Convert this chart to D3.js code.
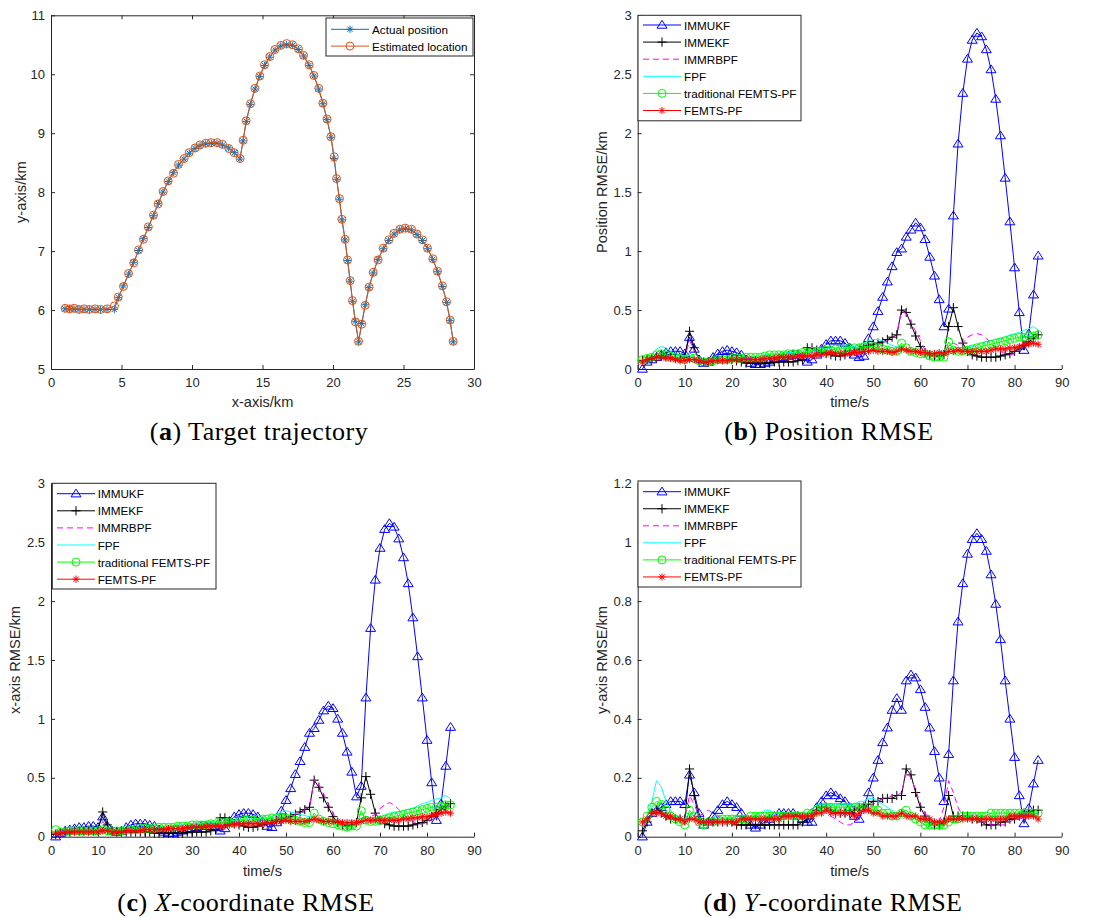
<!DOCTYPE html>
<html><head><meta charset="utf-8">
<script src="https://cdn.jsdelivr.net/npm/d3@7"></script>
<style>body{margin:0;background:#fff}svg{display:block}</style>
</head><body>
<svg id="chart" width="1101" height="918"></svg>
<script>
// ---------------- DATA ----------------
const trajActualX = [0.99,1.32,1.63,1.99,2.34,2.72,3.12,3.52,3.97,4.49,
4.78,5.13,5.51,5.86,6.22,6.55,6.90,7.26,7.61,7.94,8.32,8.68,9.05,9.43,9.81,10.21,10.57,10.97,11.37,11.77,12.17,12.60,13.00,13.40,
13.62,13.85,14.14,14.47,14.80,15.15,15.51,15.89,16.29,16.71,17.14,17.54,17.92,18.30,18.65,18.98,19.29,19.57,19.86,20.07,20.26,20.45,20.64,20.85,21.04,21.21,21.39,21.58,21.82,
22.03,22.29,22.55,22.86,23.19,23.57,23.95,24.33,24.73,25.13,25.56,25.96,26.34,26.71,27.07,27.42,27.75,28.06,28.30,28.53];
const trajActualY = [6.02,6.02,6.02,6.01,6.01,6.01,6.01,6.01,6.01,6.01,
6.21,6.41,6.61,6.81,7.01,7.21,7.40,7.60,7.81,8.00,8.18,8.33,8.46,8.56,8.66,8.74,8.79,8.82,8.83,8.83,8.80,8.75,8.67,8.56,
8.87,9.20,9.49,9.75,9.96,10.15,10.29,10.41,10.48,10.50,10.49,10.42,10.31,10.15,9.97,9.75,9.50,9.23,8.93,8.57,8.22,7.88,7.53,7.19,6.84,6.49,6.15,5.81,5.46,
5.77,6.09,6.38,6.63,6.86,7.04,7.18,7.29,7.36,7.38,7.36,7.28,7.18,7.04,6.86,6.65,6.40,6.13,5.82,5.46];
const trajEstX = [1.00,1.32,1.64,1.98,2.35,2.72,3.13,3.52,3.98,4.50,
4.77,5.14,5.50,5.87,6.21,6.56,6.90,7.27,7.60,7.95,8.31,8.69,9.04,9.44,9.80,10.22,10.56,10.98,11.36,11.78,12.16,12.61,12.99,13.41,
13.63,13.84,14.15,14.46,14.81,15.14,15.52,15.88,16.30,16.72,17.13,17.55,17.91,18.31,18.64,18.99,19.28,19.58,19.85,20.09,20.25,20.46,20.63,20.86,21.03,21.22,21.38,21.59,21.81,
22.04,22.28,22.56,22.85,23.20,23.56,23.96,24.32,24.74,25.12,25.57,25.95,26.35,26.70,27.08,27.41,27.76,28.05,28.31,28.52];
const trajEstY = [6.03,6.02,6.03,6.01,6.02,6.01,6.02,6.01,6.02,6.07,
6.22,6.40,6.62,6.80,7.02,7.20,7.41,7.61,7.80,8.01,8.19,8.32,8.47,8.57,8.67,8.75,8.80,8.83,8.84,8.84,8.81,8.74,8.67,8.57,
8.88,9.21,9.50,9.76,9.97,10.16,10.30,10.42,10.49,10.52,10.50,10.43,10.32,10.16,9.98,9.76,9.51,9.24,8.94,8.60,8.23,7.89,7.54,7.20,6.85,6.50,6.16,5.80,5.47,
5.76,6.08,6.39,6.64,6.85,7.05,7.19,7.30,7.37,7.39,7.37,7.29,7.19,7.05,6.87,6.66,6.41,6.14,5.83,5.47];

const timeSteps = [1,2,3,4,5,6,7,8,9,10,11,12,13,14,15,16,17,18,19,20,21,22,23,24,25,26,27,28,29,30,
31,32,33,34,35,36,37,38,39,40,41,42,43,44,45,46,47,48,49,50,51,52,53,54,55,56,57,58,59,60,
61,62,63,64,65,66,67,68,69,70,71,72,73,74,75,76,77,78,79,80,81,82,83,84,85];

const seriesNames = ["IMMUKF","IMMEKF","IMMRBPF","FPF","traditional FEMTS-PF","FEMTS-PF"];

// Position RMSE (b)
const posIMMUKF = [0.00,0.06,0.08,0.10,0.12,0.14,0.15,0.15,0.15,0.13,
0.27,0.17,0.08,0.05,0.06,0.10,0.13,0.15,0.16,0.15,
0.14,0.12,0.08,0.05,0.04,0.04,0.05,0.06,0.08,0.09,
0.10,0.11,0.12,0.12,0.10,0.06,0.08,0.12,0.17,0.21,
0.24,0.24,0.24,0.22,0.18,0.12,0.10,0.11,0.26,0.36,
0.49,0.61,0.74,0.87,0.99,1.02,1.12,1.18,1.24,1.20,
1.10,0.95,0.79,0.59,0.36,0.51,1.30,1.91,2.34,2.63,
2.79,2.85,2.82,2.71,2.54,2.29,1.98,1.62,1.25,0.86,
0.48,0.16,0.30,0.63,0.96];
const posIMMEKF = [0.07,0.08,0.09,0.10,0.11,0.11,0.10,0.09,0.09,0.10,
0.32,0.18,0.08,0.06,0.06,0.07,0.08,0.08,0.08,0.08,
0.07,0.06,0.05,0.05,0.05,0.05,0.05,0.05,0.06,0.06,
0.06,0.06,0.06,0.07,0.08,0.18,0.18,0.16,0.14,0.13,
0.12,0.11,0.11,0.12,0.13,0.15,0.17,0.19,0.20,0.21,
0.22,0.23,0.25,0.27,0.29,0.50,0.48,0.38,0.28,0.19,
0.14,0.12,0.11,0.11,0.12,0.36,0.52,0.36,0.22,0.15,
0.12,0.11,0.10,0.10,0.10,0.10,0.11,0.12,0.13,0.15,
0.17,0.20,0.23,0.26,0.29];
const posIMMRBPF = [0.06,0.07,0.08,0.09,0.10,0.10,0.10,0.09,0.09,0.10,
0.24,0.16,0.09,0.07,0.07,0.08,0.09,0.09,0.09,0.09,
0.09,0.09,0.09,0.09,0.09,0.09,0.10,0.10,0.10,0.11,
0.11,0.11,0.12,0.12,0.12,0.13,0.14,0.14,0.15,0.15,
0.15,0.14,0.14,0.13,0.12,0.12,0.13,0.15,0.18,0.20,
0.21,0.22,0.24,0.26,0.30,0.49,0.47,0.40,0.32,0.24,
0.16,0.12,0.11,0.11,0.13,0.20,0.22,0.20,0.22,0.27,
0.29,0.30,0.29,0.26,0.22,0.18,0.15,0.13,0.12,0.13,
0.16,0.19,0.22,0.25,0.27];
const posFPF = [0.07,0.09,0.12,0.17,0.19,0.18,0.15,0.13,0.12,0.11,
0.12,0.10,0.08,0.07,0.07,0.08,0.08,0.09,0.09,0.09,
0.09,0.10,0.10,0.10,0.11,0.11,0.12,0.13,0.13,0.13,
0.13,0.14,0.14,0.14,0.15,0.15,0.16,0.16,0.17,0.17,
0.18,0.18,0.18,0.18,0.19,0.19,0.20,0.22,0.24,0.25,
0.25,0.24,0.22,0.20,0.19,0.18,0.17,0.16,0.15,0.15,
0.14,0.13,0.13,0.14,0.16,0.18,0.17,0.16,0.17,0.18,
0.19,0.20,0.22,0.23,0.24,0.25,0.26,0.27,0.29,0.30,
0.31,0.33,0.34,0.36,0.33];
const posTradFEMTS = [0.08,0.09,0.10,0.12,0.13,0.12,0.11,0.10,0.09,0.08,
0.10,0.09,0.07,0.06,0.06,0.07,0.08,0.08,0.08,0.09,
0.09,0.09,0.10,0.10,0.10,0.10,0.11,0.12,0.12,0.12,
0.12,0.13,0.13,0.13,0.14,0.14,0.15,0.15,0.15,0.16,
0.16,0.17,0.17,0.17,0.18,0.18,0.18,0.19,0.19,0.19,
0.18,0.17,0.16,0.15,0.15,0.22,0.18,0.15,0.14,0.13,
0.13,0.11,0.10,0.10,0.10,0.23,0.16,0.15,0.15,0.16,
0.17,0.18,0.19,0.20,0.21,0.22,0.23,0.24,0.25,0.26,
0.27,0.27,0.28,0.28,0.29];
const posFEMTS = [0.06,0.08,0.09,0.10,0.10,0.09,0.09,0.08,0.07,0.07,
0.08,0.08,0.07,0.06,0.06,0.07,0.07,0.07,0.07,0.08,
0.08,0.08,0.08,0.08,0.08,0.08,0.09,0.09,0.09,0.10,
0.10,0.10,0.10,0.11,0.11,0.11,0.11,0.12,0.12,0.13,
0.14,0.13,0.13,0.13,0.13,0.14,0.14,0.15,0.15,0.16,
0.15,0.15,0.15,0.14,0.15,0.17,0.16,0.15,0.15,0.14,
0.14,0.13,0.13,0.14,0.13,0.15,0.15,0.16,0.15,0.15,
0.15,0.15,0.15,0.15,0.16,0.17,0.17,0.17,0.18,0.18,
0.19,0.21,0.21,0.22,0.21];

// X-coordinate RMSE (c)
const xIMMUKF = [0.00,0.03,0.05,0.06,0.07,0.08,0.08,0.09,0.09,0.08,
0.17,0.09,0.05,0.04,0.05,0.08,0.10,0.11,0.11,0.11,
0.10,0.09,0.06,0.04,0.03,0.03,0.04,0.05,0.06,0.07,
0.08,0.09,0.09,0.09,0.08,0.05,0.07,0.13,0.17,0.19,
0.20,0.20,0.19,0.17,0.13,0.09,0.08,0.12,0.22,0.31,
0.41,0.53,0.64,0.76,0.88,0.92,0.99,1.07,1.11,1.09,
1.00,0.88,0.72,0.55,0.34,0.43,1.18,1.77,2.18,2.45,
2.61,2.66,2.63,2.53,2.37,2.15,1.86,1.53,1.18,0.82,
0.46,0.14,0.28,0.60,0.93];
const xIMMEKF = [0.02,0.03,0.04,0.04,0.05,0.05,0.05,0.05,0.05,0.06,
0.21,0.10,0.05,0.04,0.04,0.04,0.04,0.04,0.04,0.04,
0.04,0.03,0.03,0.03,0.03,0.03,0.03,0.03,0.04,0.04,
0.04,0.04,0.04,0.05,0.06,0.16,0.16,0.13,0.11,0.10,
0.09,0.08,0.08,0.09,0.10,0.11,0.12,0.14,0.15,0.16,
0.17,0.19,0.21,0.23,0.25,0.48,0.42,0.33,0.25,0.17,
0.12,0.10,0.09,0.10,0.12,0.33,0.51,0.36,0.20,0.14,
0.11,0.10,0.09,0.09,0.09,0.09,0.10,0.11,0.12,0.14,
0.17,0.20,0.23,0.26,0.28];
const xIMMRBPF = [0.02,0.03,0.04,0.04,0.05,0.05,0.05,0.05,0.05,0.06,
0.13,0.08,0.05,0.05,0.05,0.05,0.05,0.06,0.06,0.06,
0.06,0.06,0.06,0.06,0.07,0.07,0.07,0.07,0.08,0.08,
0.08,0.08,0.09,0.09,0.09,0.10,0.11,0.11,0.12,0.12,
0.12,0.12,0.12,0.12,0.11,0.11,0.12,0.13,0.15,0.16,
0.17,0.19,0.21,0.23,0.26,0.48,0.44,0.36,0.28,0.20,
0.14,0.11,0.10,0.10,0.12,0.16,0.17,0.17,0.19,0.24,
0.27,0.29,0.27,0.23,0.19,0.15,0.13,0.11,0.11,0.12,
0.14,0.17,0.20,0.24,0.26];
const xFPF = [0.03,0.04,0.05,0.06,0.06,0.06,0.06,0.06,0.06,0.06,
0.07,0.06,0.06,0.06,0.06,0.06,0.07,0.07,0.07,0.07,
0.08,0.08,0.08,0.09,0.09,0.09,0.10,0.10,0.11,0.11,
0.11,0.11,0.12,0.12,0.12,0.13,0.13,0.13,0.14,0.14,
0.15,0.15,0.15,0.15,0.16,0.16,0.17,0.19,0.21,0.22,
0.21,0.20,0.19,0.18,0.17,0.16,0.15,0.14,0.14,0.14,
0.13,0.12,0.11,0.12,0.14,0.16,0.15,0.14,0.15,0.16,
0.18,0.20,0.21,0.21,0.22,0.23,0.24,0.26,0.28,0.29,
0.31,0.32,0.33,0.35,0.32];
const xTradFEMTS = [0.06,0.04,0.04,0.05,0.05,0.05,0.05,0.05,0.05,0.05,
0.06,0.05,0.05,0.05,0.05,0.06,0.06,0.06,0.07,0.07,
0.07,0.07,0.08,0.08,0.08,0.08,0.09,0.09,0.09,0.10,
0.10,0.10,0.10,0.11,0.11,0.12,0.12,0.12,0.13,0.13,
0.14,0.14,0.14,0.15,0.15,0.15,0.16,0.16,0.16,0.16,
0.15,0.14,0.13,0.12,0.12,0.20,0.15,0.13,0.12,0.11,
0.10,0.09,0.08,0.09,0.09,0.22,0.14,0.13,0.13,0.14,
0.15,0.16,0.17,0.18,0.19,0.20,0.21,0.22,0.23,0.24,
0.25,0.25,0.26,0.27,0.27];
const xFEMTS = [0.03,0.03,0.04,0.04,0.04,0.04,0.04,0.04,0.04,0.04,
0.05,0.05,0.04,0.04,0.04,0.05,0.05,0.05,0.05,0.06,
0.06,0.06,0.06,0.06,0.07,0.07,0.07,0.07,0.08,0.08,
0.08,0.08,0.09,0.09,0.09,0.09,0.09,0.10,0.10,0.11,
0.11,0.11,0.11,0.11,0.11,0.12,0.12,0.13,0.13,0.14,
0.13,0.13,0.13,0.13,0.14,0.15,0.14,0.13,0.13,0.13,
0.13,0.12,0.12,0.12,0.12,0.13,0.14,0.14,0.14,0.14,
0.14,0.14,0.14,0.14,0.15,0.15,0.16,0.16,0.17,0.17,
0.18,0.19,0.20,0.21,0.20];

// Y-coordinate RMSE (d)
const yIMMUKF = [0.00,0.05,0.08,0.09,0.10,0.11,0.12,0.12,0.12,0.11,
0.21,0.15,0.08,0.04,0.05,0.07,0.09,0.11,0.12,0.11,
0.10,0.08,0.05,0.04,0.03,0.04,0.05,0.06,0.07,0.08,
0.08,0.08,0.08,0.07,0.06,0.05,0.05,0.10,0.12,0.14,
0.15,0.14,0.13,0.12,0.10,0.07,0.06,0.10,0.15,0.20,
0.26,0.32,0.37,0.43,0.47,0.43,0.53,0.55,0.54,0.50,
0.44,0.37,0.29,0.20,0.12,0.28,0.53,0.73,0.86,0.96,
1.01,1.03,1.01,0.97,0.89,0.79,0.67,0.53,0.40,0.27,
0.14,0.045,0.096,0.18,0.26];
const yIMMEKF = [0.02,0.05,0.08,0.09,0.08,0.07,0.06,0.06,0.06,0.06,
0.23,0.14,0.06,0.05,0.05,0.05,0.05,0.05,0.05,0.05,
0.04,0.04,0.04,0.04,0.04,0.04,0.04,0.04,0.04,0.04,
0.04,0.04,0.04,0.04,0.05,0.06,0.08,0.09,0.10,0.10,
0.09,0.08,0.08,0.08,0.08,0.09,0.10,0.10,0.11,0.12,
0.12,0.13,0.13,0.13,0.14,0.14,0.23,0.21,0.15,0.10,
0.07,0.05,0.04,0.04,0.05,0.14,0.07,0.07,0.07,0.07,
0.06,0.06,0.05,0.04,0.04,0.04,0.05,0.05,0.06,0.06,
0.07,0.08,0.08,0.09,0.09];
const yIMMRBPF = [0.03,0.06,0.08,0.09,0.08,0.07,0.07,0.06,0.06,0.06,
0.14,0.11,0.07,0.08,0.09,0.08,0.07,0.06,0.06,0.06,
0.06,0.06,0.06,0.06,0.06,0.06,0.06,0.06,0.06,0.06,
0.06,0.07,0.07,0.07,0.07,0.07,0.08,0.09,0.09,0.08,
0.07,0.06,0.05,0.04,0.04,0.05,0.06,0.08,0.10,0.11,
0.12,0.13,0.13,0.14,0.14,0.15,0.22,0.20,0.16,0.11,
0.08,0.06,0.05,0.05,0.10,0.19,0.15,0.10,0.07,0.07,
0.06,0.06,0.05,0.05,0.04,0.04,0.04,0.04,0.05,0.06,
0.06,0.07,0.07,0.07,0.07];
const yFPF = [0.04,0.07,0.12,0.19,0.17,0.12,0.09,0.07,0.06,0.06,
0.08,0.07,0.06,0.05,0.05,0.05,0.06,0.06,0.06,0.06,
0.07,0.07,0.07,0.07,0.07,0.08,0.09,0.09,0.08,0.08,
0.08,0.08,0.08,0.08,0.08,0.08,0.09,0.11,0.11,0.11,
0.11,0.11,0.11,0.11,0.11,0.11,0.12,0.12,0.13,0.13,
0.12,0.11,0.10,0.09,0.08,0.08,0.08,0.07,0.07,0.06,
0.06,0.05,0.05,0.05,0.05,0.06,0.06,0.06,0.07,0.07,
0.07,0.07,0.07,0.07,0.07,0.07,0.07,0.07,0.07,0.07,
0.08,0.08,0.08,0.08,0.08];
const yTradFEMTS = [0.05,0.07,0.10,0.12,0.11,0.09,0.07,0.06,0.05,0.04,
0.09,0.07,0.05,0.04,0.05,0.05,0.06,0.06,0.06,0.06,
0.06,0.06,0.06,0.07,0.07,0.07,0.07,0.07,0.07,0.07,
0.07,0.07,0.07,0.07,0.07,0.08,0.08,0.09,0.10,0.10,
0.10,0.10,0.10,0.10,0.10,0.10,0.10,0.10,0.10,0.09,
0.09,0.08,0.08,0.07,0.07,0.08,0.09,0.07,0.06,0.05,
0.04,0.04,0.04,0.04,0.04,0.05,0.06,0.06,0.07,0.07,
0.07,0.07,0.07,0.07,0.08,0.08,0.08,0.08,0.08,0.08,
0.08,0.08,0.08,0.08,0.08];
const yFEMTS = [0.05,0.06,0.08,0.08,0.08,0.07,0.07,0.06,0.06,0.05,
0.06,0.06,0.05,0.05,0.05,0.05,0.05,0.05,0.05,0.05,
0.05,0.06,0.06,0.06,0.06,0.06,0.06,0.06,0.06,0.06,
0.07,0.07,0.07,0.07,0.07,0.07,0.07,0.08,0.08,0.09,
0.08,0.08,0.08,0.08,0.08,0.07,0.08,0.09,0.09,0.08,
0.08,0.07,0.07,0.07,0.07,0.08,0.07,0.07,0.07,0.06,
0.06,0.06,0.05,0.05,0.05,0.06,0.06,0.06,0.06,0.06,
0.06,0.06,0.06,0.06,0.06,0.06,0.06,0.06,0.07,0.07,
0.07,0.07,0.07,0.07,0.06];

const trajXTicks = [0,5,10,15,20,25,30];
const trajYTicks = [5,6,7,8,9,10,11];
const timeTicks = [0,10,20,30,40,50,60,70,80,90];
const rmseTicks3 = [0,0.5,1,1.5,2,2.5,3];
const rmseTicks12 = [0,0.2,0.4,0.6,0.8,1,1.2];

// ---------------- DRAWING ----------------
const svg = d3.select("#chart");
const AXC = "#262626";
const SANS = "'Liberation Sans', Arial, Helvetica, sans-serif";
const SERIF = "'Liberation Serif', 'Times New Roman', serif";

function markerPath(type) {
  if (type === "star") { const r = 3.6, q = r * 0.72;
    return `M${-r},0L${r},0M0,${-r}L0,${r}M${-q},${-q}L${q},${q}M${-q},${q}L${q},${-q}`; }
  if (type === "plus") { const r = 4.6; return `M${-r},0L${r},0M0,${-r}L0,${r}`; }
  if (type === "tri") return "M0,-4.6L5,3.2L-5,3.2Z";
  return null;
}
function drawMarkers(g, pts, type, color) {
  if (!type) return;
  if (type === "circle") {
    g.selectAll(null).data(pts).enter().append("circle")
      .attr("cx", d => d[0]).attr("cy", d => d[1]).attr("r", 4)
      .attr("fill", "none").attr("stroke", color).attr("stroke-width", 1);
  } else {
    const p = markerPath(type);
    g.selectAll(null).data(pts).enter().append("path")
      .attr("d", p).attr("transform", d => `translate(${d[0]},${d[1]})`)
      .attr("fill", "none").attr("stroke", color).attr("stroke-width", 1);
  }
}

function setupAxes(box, xDom, yDom, xTicks, yTicks, opts) {
  const x = d3.scaleLinear().domain(xDom).range([box.left, box.right]);
  const y = d3.scaleLinear().domain(yDom).range([box.bottom, box.top]);
  const g = svg.append("g");
  const fmt = d => String(d);
  g.append("g").attr("transform", `translate(0,${box.bottom})`)
    .call(d3.axisBottom(x).tickValues(xTicks).tickSize(-4).tickSizeOuter(0).tickPadding(9).tickFormat(fmt));
  g.append("g").attr("transform", `translate(${box.left},0)`)
    .call(d3.axisLeft(y).tickValues(yTicks).tickSize(-4).tickSizeOuter(0).tickPadding(6).tickFormat(fmt));
  if (opts.box) {
    g.append("g").attr("transform", `translate(0,${box.top})`)
      .call(d3.axisTop(x).tickValues(xTicks).tickSize(-4).tickSizeOuter(0).tickFormat(""));
    g.append("g").attr("transform", `translate(${box.right},0)`)
      .call(d3.axisRight(y).tickValues(yTicks).tickSize(-4).tickSizeOuter(0).tickFormat(""));
  }
  g.selectAll(".domain").attr("stroke", AXC).attr("stroke-width", 1);
  g.selectAll(".tick line").attr("stroke", AXC).attr("stroke-width", 1);
  g.selectAll(".tick text").attr("fill", AXC).style("font-family", SANS).style("font-size", "13px");
  g.append("text").attr("x", (box.left + box.right) / 2).attr("y", opts.xLabelY)
    .attr("text-anchor", "middle").attr("dominant-baseline", "central")
    .style("font-family", SANS).style("font-size", "14.6px").attr("fill", AXC).text(opts.xLabel);
  g.append("text").attr("transform", `translate(${opts.yLabelX},${(box.top + box.bottom) / 2}) rotate(-90)`)
    .attr("text-anchor", "middle").attr("dominant-baseline", "central")
    .style("font-family", SANS).style("font-size", "14.6px").attr("fill", AXC).text(opts.yLabel);
  return { x, y };
}

function drawLegend(lg, entries) {
  const g = svg.append("g");
  g.append("rect").attr("x", lg.x).attr("y", lg.y).attr("width", lg.w).attr("height", lg.h)
    .attr("fill", "#fff").attr("stroke", AXC).attr("stroke-width", 1);
  entries.forEach((e, i) => {
    const yy = lg.y0 + i * lg.dy;
    g.append("line").attr("x1", lg.lx1).attr("x2", lg.lx2).attr("y1", yy).attr("y2", yy)
      .attr("stroke", e.color).attr("stroke-width", 1).attr("stroke-dasharray", e.dash || null);
    drawMarkers(g, [[(lg.lx1 + lg.lx2) / 2, yy]], e.marker, e.color);
    g.append("text").attr("x", lg.tx).attr("y", yy).attr("dominant-baseline", "central")
      .style("font-family", SANS).style("font-size", "11.7px").attr("fill", "#000").text(e.name);
  });
}

function caption(cx, by, letter, parts) {
  const t = svg.append("text").attr("x", cx).attr("y", by).attr("text-anchor", "middle")
    .style("font-family", SERIF).style("font-size", "26px").style("letter-spacing", "0.5px").attr("fill", "#000");
  t.append("tspan").text("(");
  t.append("tspan").attr("font-weight", "bold").text(letter);
  t.append("tspan").text(") ");
  parts.forEach(p => t.append("tspan").attr("font-style", p.italic ? "italic" : "normal").text(p.text));
}

// ---- Panel (a) trajectory ----
{
  const box = { left: 51, right: 474, top: 15.3, bottom: 369 };
  const { x, y } = setupAxes(box, [0, 30], [5, 11], trajXTicks, trajYTicks,
    { box: true, xLabel: "x-axis/km", yLabel: "y-axis/km", xLabelY: 402, yLabelX: 21 });
  const line = d3.line().x(d => x(d[0])).y(d => y(d[1]));
  const act = trajActualX.map((v, i) => [v, trajActualY[i]]);
  const est = trajEstX.map((v, i) => [v, trajEstY[i]]);
  const g = svg.append("g");
  g.append("path").attr("d", line(act)).attr("fill", "none").attr("stroke", "#0072BD").attr("stroke-width", 1);
  drawMarkers(g, act.map(d => [x(d[0]), y(d[1])]), "star", "#0072BD");
  g.append("path").attr("d", line(est)).attr("fill", "none").attr("stroke", "#D95319").attr("stroke-width", 1);
  drawMarkers(g, est.map(d => [x(d[0]), y(d[1])]), "circle", "#D95319");
  drawLegend({ x: 326, y: 18, w: 147, h: 38, y0: 29.3, dy: 16.8, lx1: 331, lx2: 369, tx: 372 }, [
    { name: "Actual position", color: "#0072BD", marker: "star" },
    { name: "Estimated location", color: "#D95319", marker: "circle" }]);
  caption(259, 440, "a", [{ text: "Target trajectory" }]);
}

// ---- RMSE panels ----
const seriesStyles = [
  { color: "#0000FF", marker: "tri" },
  { color: "#000000", marker: "plus" },
  { color: "#FF00FF", marker: null, dash: "6,4" },
  { color: "#00FFFF", marker: null },
  { color: "#00FF00", marker: "circle" },
  { color: "#FF0000", marker: "star" }];

function rmsePanel(box, yDom, yTicks, series, yLabel, yLabelX, xLabelY, lg) {
  const { x, y } = setupAxes(box, [0, 90], yDom, timeTicks, yTicks,
    { box: false, xLabel: "time/s", yLabel, xLabelY, yLabelX });
  const line = d3.line().x(d => x(d[0])).y(d => y(d[1]));
  const g = svg.append("g");
  series.forEach((vals, si) => {
    const st = seriesStyles[si];
    const pts = timeSteps.map((t, i) => [t, vals[i]]);
    g.append("path").attr("d", line(pts)).attr("fill", "none").attr("stroke", st.color)
      .attr("stroke-width", 1).attr("stroke-dasharray", st.dash || null);
    drawMarkers(g, pts.map(d => [x(d[0]), y(d[1])]), st.marker, st.color);
  });
  drawLegend(lg, seriesNames.map((n, i) => Object.assign({ name: n }, seriesStyles[i])));
}

rmsePanel({ left: 637.7, right: 1061.7, top: 15.3, bottom: 369 }, [0, 3], rmseTicks3,
  [posIMMUKF, posIMMEKF, posIMMRBPF, posFPF, posTradFEMTS, posFEMTS], "Position RMSE/km", 602, 402,
  { x: 638, y: 15.3, w: 163, h: 105.5, y0: 25, dy: 17.1, lx1: 643, lx2: 681, tx: 684 });
caption(829, 440, "b", [{ text: "Position RMSE" }]);

rmsePanel({ left: 51, right: 474, top: 483.3, bottom: 836.7 }, [0, 3], rmseTicks3,
  [xIMMUKF, xIMMEKF, xIMMRBPF, xFPF, xTradFEMTS, xFEMTS], "x-axis RMSE/km", 15, 870.7,
  { x: 52.3, y: 483.3, w: 163.7, h: 105.7, y0: 493.7, dy: 17.1, lx1: 57, lx2: 95, tx: 97.7 });
caption(246, 911, "c", [{ text: "X", italic: true }, { text: "-coordinate RMSE" }]);

rmsePanel({ left: 637.7, right: 1061.7, top: 483.3, bottom: 836.7 }, [0, 1.2], rmseTicks12,
  [yIMMUKF, yIMMEKF, yIMMRBPF, yFPF, yTradFEMTS, yFEMTS], "y-axis RMSE/km", 602, 870.7,
  { x: 638, y: 481, w: 163, h: 106, y0: 491.7, dy: 17.05, lx1: 643, lx2: 681, tx: 684 });
caption(833, 911, "d", [{ text: "Y", italic: true }, { text: "-coordinate RMSE" }]);
</script>
</body></html>
